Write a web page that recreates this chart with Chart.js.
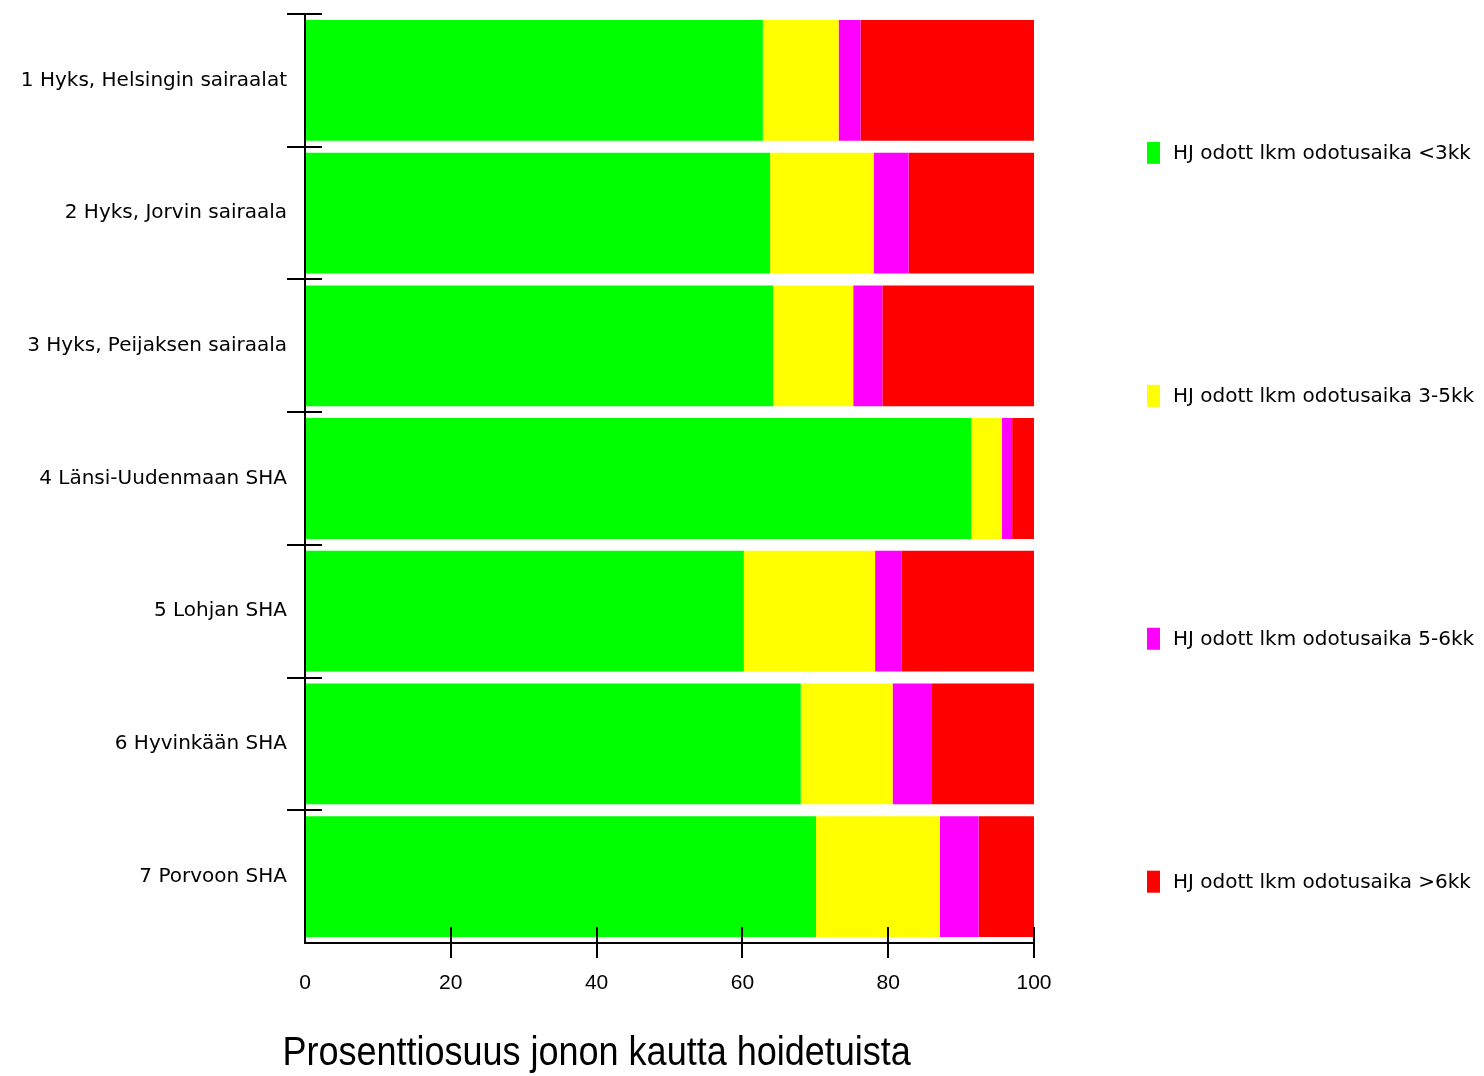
<!DOCTYPE html>
<html><head><meta charset="utf-8">
<script src="https://cdn.jsdelivr.net/npm/chart.js@4"></script>
<style>html,body{margin:0;padding:0;background:#fff;}#wrap{width:1484px;height:1076px;}</style>
</head><body><div id="wrap"><canvas id="c" width="1484" height="1076"></canvas></div>
<script>
const categories = ["1 Hyks, Helsingin sairaalat","2 Hyks, Jorvin sairaala","3 Hyks, Peijaksen sairaala","4 Länsi-Uudenmaan SHA","5 Lohjan SHA","6 Hyvinkään SHA","7 Porvoon SHA"];
const seriesNames = ["HJ odott lkm odotusaika <3kk","HJ odott lkm odotusaika 3-5kk","HJ odott lkm odotusaika 5-6kk","HJ odott lkm odotusaika >6kk"];
const under3 = [62.8, 63.8, 64.2, 91.4, 60.2, 68.0, 70.1];
const m3to5  = [10.4, 14.2, 11.0, 4.2, 18.0, 12.6, 17.0];
const m5to6  = [3.0, 4.8, 4.0, 1.4, 3.6, 5.4, 5.3];
const over6  = [23.8, 17.2, 20.8, 3.0, 18.2, 14.0, 7.6];
const xTicks = [0, 20, 40, 60, 80, 100];
const xTitle = "Prosenttiosuus jonon kautta hoidetuista";
const colors = ["#00ff00", "#ffff00", "#ff00ff", "#ff0000"];

const FONT = "'DejaVu Sans', 'Liberation Sans', sans-serif";
const TICKFONT = "'Liberation Sans', Arial, sans-serif";

const crossTicks = {
  id: 'crossTicks',
  afterDraw(chart) {
    const ctx = chart.ctx, a = chart.chartArea;
    const xs = chart.scales.x, ys = chart.scales.y;
    ctx.save();
    ctx.strokeStyle = '#000';
    ctx.lineWidth = 2;
    ctx.beginPath();
    ctx.moveTo(a.left, a.top); ctx.lineTo(a.left, a.bottom); ctx.lineTo(a.right, a.bottom);
    ctx.stroke();
    xTicks.forEach(v => {
      if (v === 0) return;
      const px = Math.round(xs.getPixelForValue(v));
      ctx.beginPath(); ctx.moveTo(px, a.bottom - 16); ctx.lineTo(px, a.bottom + 15); ctx.stroke();
    });
    const n = categories.length;
    const half = (ys.getPixelForValue(1) - ys.getPixelForValue(0)) / 2;
    for (let i = 0; i < n; i++) {
      const b = Math.round(ys.getPixelForValue(i) - half);
      ctx.beginPath(); ctx.moveTo(a.left - 18, b); ctx.lineTo(a.left + 17, b); ctx.stroke();
    }
    // x title (condensed look)
    ctx.save();
    ctx.fillStyle = '#000';
    ctx.font = "40px " + TICKFONT;
    ctx.textAlign = 'center';
    ctx.textBaseline = 'middle';
    const tx = a.left + (a.right - a.left) * 0.4;
    ctx.translate(tx, a.bottom + 111);
    ctx.scale(0.9, 1);
    ctx.fillText(xTitle, 0, 0);
    ctx.restore();
    // legend
    ctx.font = "20px " + FONT;
    ctx.textAlign = 'left';
    ctx.textBaseline = 'middle';
    const ds = chart.data.datasets;
    const lx = a.right + 113;
    const step = (a.bottom - a.top) * 0.2615;
    ds.forEach((d, i) => {
      const cy = a.top + (a.bottom - a.top) * 0.1495 + i * step;
      ctx.fillStyle = d.backgroundColor;
      ctx.fillRect(lx, cy - 11, 13, 22);
      ctx.fillStyle = '#000';
      ctx.fillText(d.label, lx + 26, cy + 1);
    });
    ctx.restore();
  }
};

new Chart(document.getElementById('c'), {
  type: 'bar',
  data: {
    labels: categories,
    datasets: [under3, m3to5, m5to6, over6].map((arr, i) => ({
      label: seriesNames[i], data: arr, backgroundColor: colors[i], borderWidth: 0,
      categoryPercentage: 1.0, barPercentage: 0.91
    }))
  },
  options: {
    indexAxis: 'y',
    responsive: false,
    animation: false,
    devicePixelRatio: 1,
    layout: { padding: { top: 14, right: 450, bottom: 0, left: 0 } },
    plugins: { legend: { display: false }, tooltip: { enabled: false } },
    scales: {
      x: {
        stacked: true, min: 0, max: 100,
        afterFit(s) { s.height = 133; },
        afterBuildTicks(s) { s.ticks = xTicks.map(v => ({ value: v })); },
        grid: { display: false, drawTicks: false },
        border: { display: false },
        ticks: { color: '#000', font: { size: 21, family: TICKFONT }, padding: 28, autoSkip: false, maxRotation: 0 }
      },
      y: {
        stacked: true,
        afterFit(s) { s.width = 305; s.paddingTop = 0; s.paddingBottom = 0; },
        grid: { display: false, drawTicks: false },
        border: { display: false },
        ticks: { color: '#000', font: { size: 20, family: FONT }, padding: 18 }
      }
    }
  },
  plugins: [crossTicks]
});
</script>
</body></html>
